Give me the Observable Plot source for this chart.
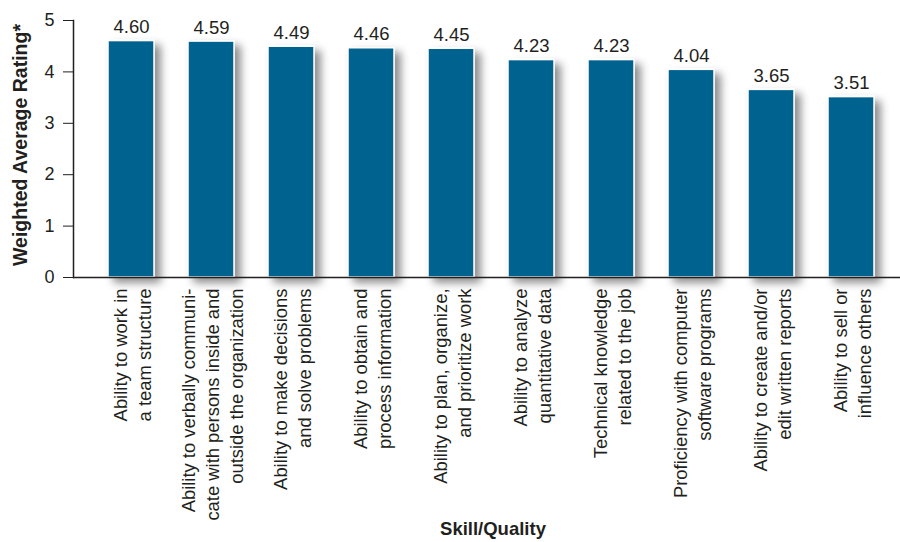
<!DOCTYPE html>
<html>
<head>
<meta charset="utf-8">
<script src="https://cdn.jsdelivr.net/npm/d3@7"></script>
<script src="https://cdn.jsdelivr.net/npm/@observablehq/plot@0.6"></script>
<style>
  html, body { margin: 0; padding: 0; background: #ffffff; }
</style>
</head>
<body>
<div id="chart"></div>
<script>
const categories = [
  "Ability to work in\na team structure",
  "Ability to verbally communi-\ncate with persons inside and\noutside the organization",
  "Ability to make decisions\nand solve problems",
  "Ability to obtain and\nprocess information",
  "Ability to plan, organize,\nand prioritize work",
  "Ability to analyze\nquantitative data",
  "Technical knowledge\nrelated to the job",
  "Proficiency with computer\nsoftware programs",
  "Ability to create and/or\nedit written reports",
  "Ability to sell or\ninfluence others"
];
const ratings = [4.60, 4.59, 4.49, 4.46, 4.45, 4.23, 4.23, 4.04, 3.65, 3.51];
const yTicks = [0, 1, 2, 3, 4, 5];
const xTitle = "Skill/Quality";
const yTitle = "Weighted Average Rating*";

const data = categories.map((c, i) => ({skill: c, rating: ratings[i]}));
const ink = "#231f20";

const chart = Plot.plot({
  width: 900,
  height: 542,
  marginTop: 20,
  marginBottom: 265,
  marginLeft: 73,
  marginRight: 0,
  style: {fontFamily: "'Liberation Sans', Arial, sans-serif", color: ink, background: "#ffffff"},
  x: {domain: categories, range: [107.25, 874.6], paddingInner: 0.42, paddingOuter: 0, label: null},
  y: {domain: [0, 5], label: null},
  marks: [
    Plot.barY(data, {x: "skill", y: "rating", fill: "#02628f", stroke: "#ffffff", strokeWidth: 1.5, className: "bars"}),
    Plot.ruleY([0], {stroke: ink, strokeWidth: 1.5}),
    Plot.frame({anchor: "left", stroke: ink, strokeWidth: 1.5}),
    Plot.axisY({ticks: yTicks, tickFormat: "d", tickSize: 10, tickPadding: 9, fontSize: 18, label: null, stroke: ink}),
    Plot.axisX({tickRotate: -90, tickSize: 0, tickPadding: 11, fontSize: 18.4, lineHeight: 1.31, label: null}),
    Plot.text(data, {x: "skill", y: "rating", text: d => d.rating.toFixed(2), dy: -8, lineAnchor: "bottom", fontSize: 18.5, fill: ink}),
    Plot.text([xTitle], {frameAnchor: "bottom", dx: 6, dy: 257, textAnchor: "middle", lineAnchor: "bottom", fontWeight: "bold", fontSize: 18.5, fill: ink}),
    Plot.text([yTitle], {frameAnchor: "left", rotate: -90, dx: -53, dy: -4, textAnchor: "middle", lineAnchor: "middle", fontWeight: "bold", fontSize: 19.5, fill: ink})
  ]
});

// soft drop shadow behind the bars
const svg = d3.select(chart);
const defs = svg.insert("defs", ":first-child");
const f = defs.append("filter").attr("id", "barShadow")
  .attr("x", "-20%").attr("y", "-20%").attr("width", "160%").attr("height", "160%");
f.append("feDropShadow").attr("dx", 6).attr("dy", 5).attr("stdDeviation", 4.5)
  .attr("flood-color", "#000").attr("flood-opacity", 0.45);
svg.selectAll(".bars").attr("filter", "url(#barShadow)");

document.getElementById("chart").appendChild(chart);
</script>
</body>
</html>
